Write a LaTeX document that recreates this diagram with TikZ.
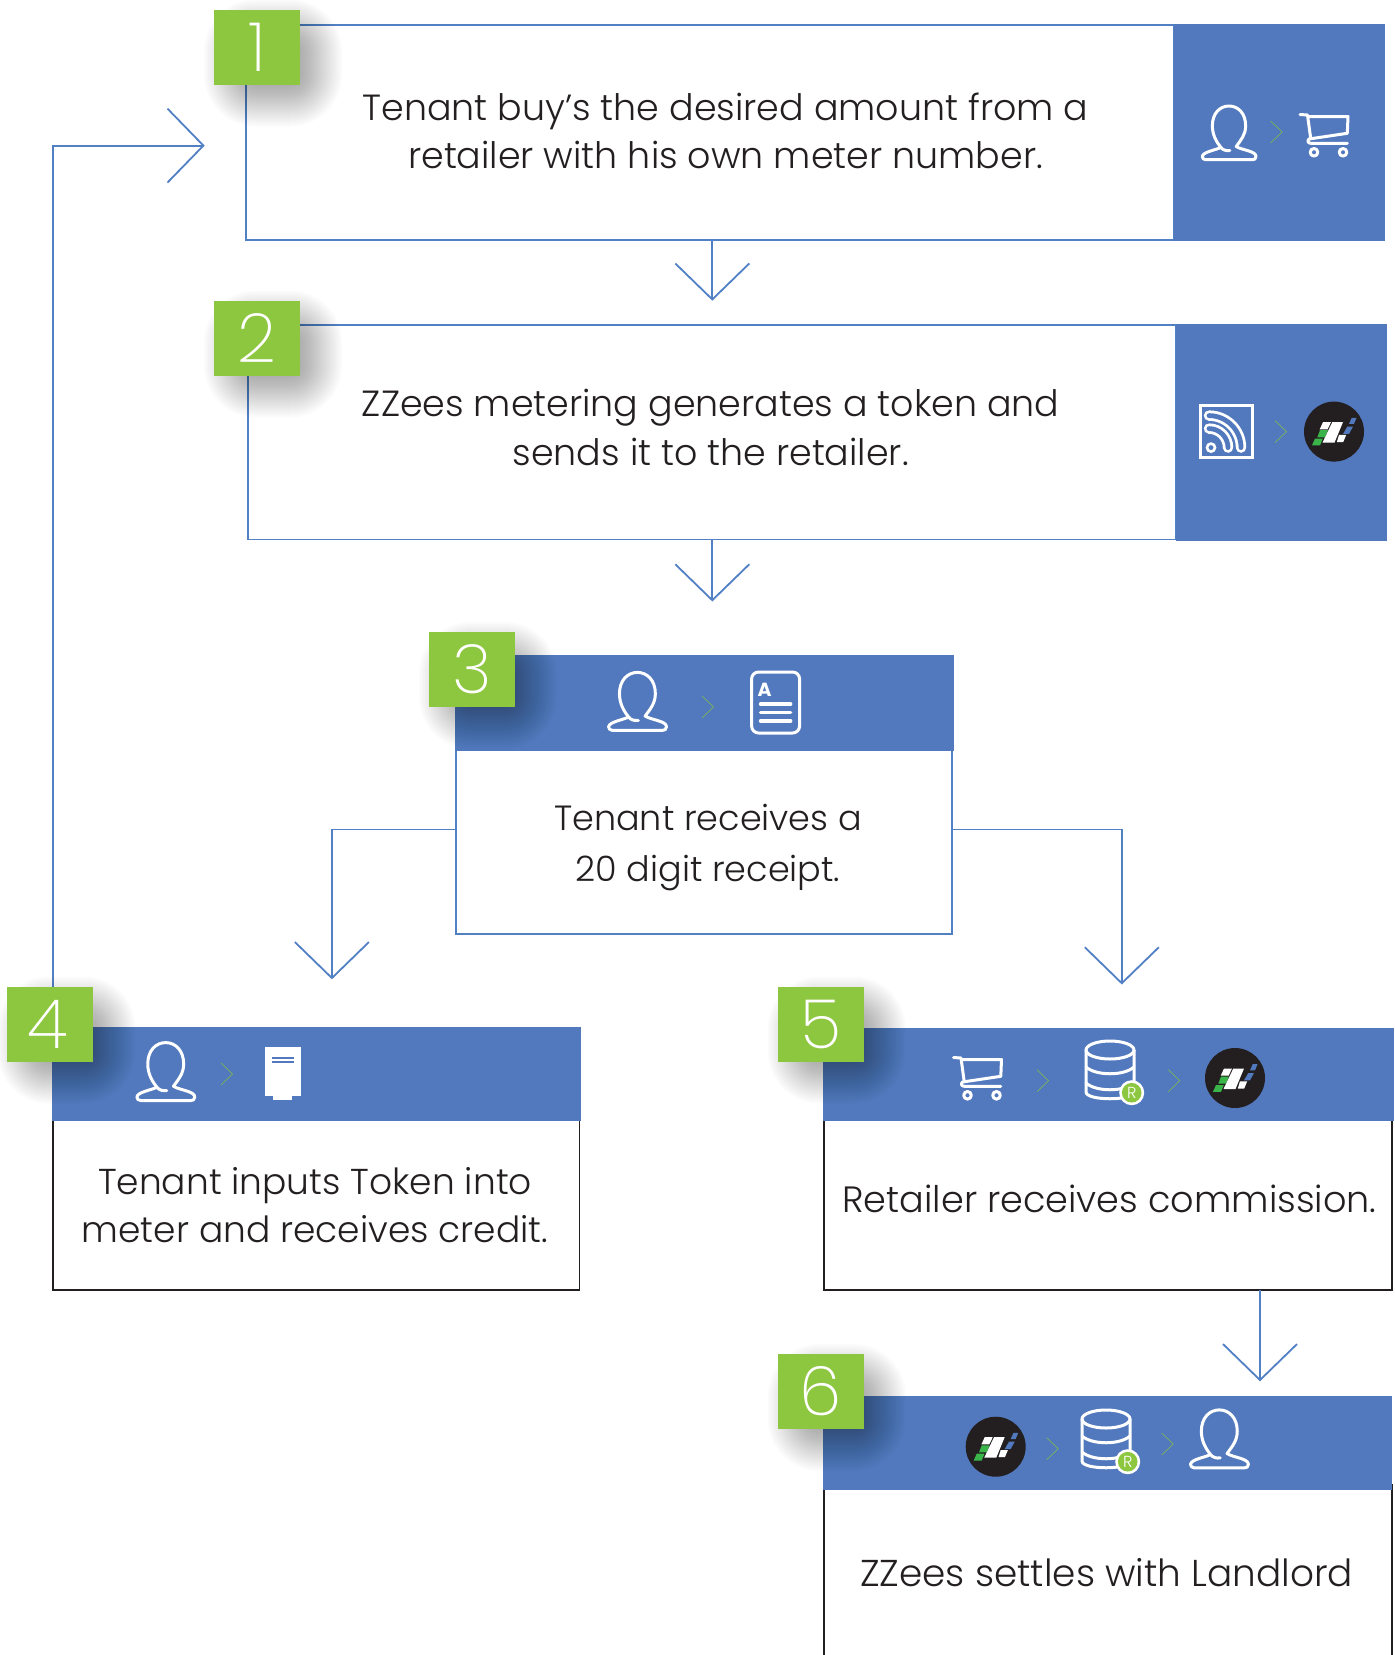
\documentclass[tikz,border=0pt]{standalone}
\usepackage{fontspec}
\setmainfont{Poppins}[UprightFont=* Light,BoldFont=* Bold]
\newfontfamily\digitfont{Poppins}[UprightFont=* ExtraLight]
\usetikzlibrary{arrows.meta,calc}
\definecolor{hdr}{HTML}{5279BD}
\definecolor{lnk}{HTML}{5280C4}
\definecolor{leaf}{HTML}{8DC63F}
\definecolor{ink}{HTML}{231F20}
\definecolor{chev}{HTML}{7DB35A}
\definecolor{logog}{HTML}{39B54A}
\newcommand{\Rect}[6]{%
  \pgfmathsetmacro\cxx{(#2+#4)/2}\pgfmathsetmacro\cyy{(#3+#5)/2}%
  \node[#6,minimum width={(#4-#2)*0.5pt},minimum height={(#5-#3)*0.5pt}] (#1) at (\cxx,\cyy) {};}
\newcommand{\Badge}[4]{% name, left, top, digit
  \foreach \s in {-26,-24,...,26}{%
    \pgfmathsetmacro\rr{max(0,\s+26)*0.5}%
    \fill[black,opacity=0.017,rounded corners=\rr pt] ({#2+16-\s},{#3+16-\s}) rectangle ({#2+86+16+\s},{#3+75+16+\s});}
  \node[badgebox] (#1) at ({#2+43},{#3+37.5}) {#4};}
\tikzset{
  x=0.5pt,y=-0.5pt,
  every node/.style={inner sep=0pt,outer sep=0pt},
  frameblue/.style={draw=lnk,line width=0.9pt,fill=white},
  framedark/.style={draw=ink,line width=0.9pt,fill=white},
  panel/.style={fill=hdr},
  badgebox/.style={fill=leaf,text=white,minimum width=43pt,minimum height=37.5pt,font=\digitfont\fontsize{34}{34}\selectfont},
  bodytext/.style={text=ink,align=center,font=\fontsize{18.2}{24.3}\selectfont},
  link/.style={draw=lnk,line width=0.9pt,line join=miter,-{Straight Barb[length=18pt,width=37pt,line width=0.9pt]}},
  ico/.style={draw=white,line width=1.5pt,line cap=round,line join=round},
  chevron/.style={draw=chev,line width=0.35pt},
  pics/person/.style={code={
    \draw[ico] (1,19.5) .. controls (-3,20) and (-7,19) .. (-9,16) .. controls (-14,10) and (-18.5,2) .. (-18.5,-8) .. controls (-18.5,-22) and (-10,-30) .. (0,-30) .. controls (10,-30) and (18.5,-22) .. (18.5,-8) .. controls (18.5,2) and (13,8) .. (8,15) .. controls (14,19) and (30,20) .. (30,26) .. controls (30,29) and (28,29.7) .. (26,29.7) -- (-26,29.7) .. controls (-28,29.7) and (-30,28) .. (-29.7,26) .. controls (-29,21) and (-15,19) .. (-9,16);
  }},
  pics/cart/.style={code={
    \draw[ico] (-24,-20.5) -- (-16.5,-20) -- (-13.3,3.5);
    \draw[ico] (-16,-18.5) -- (24,-18.5) -- (23.3,-1.7) -- (-15,4) .. controls (-17,6) and (-16,8.3) .. (-13,8.3) -- (23.3,8.3);
    \draw[ico] (-10,17.3) circle[radius=3.8];
    \draw[ico] (19,17.3) circle[radius=3.8];
  }},
  pics/logo/.style={code={
    \fill[ink] (0,0) circle[radius=30];
    \fill[logog] (-16.7,5.7) -- (-9,5.7) -- (-6.2,-1.4) -- (-14,-1.4) -- cycle;
    \fill[logog] (-22,13.8) -- (-14,13.8) -- (-11.2,7) -- (-19,7) -- cycle;
    \fill[white] (-11,-9.5) -- (-3,-9.5) -- (-6.4,-2.3) -- (-14.3,-2.3) -- cycle;
    \fill[white] (-1.7,-9.5) -- (9,-9.5) -- (0.5,11) -- (-11.5,11) -- cycle;
    \fill[white] (5,3.3) -- (12.2,3.3) -- (9.2,10.5) -- (2.8,10.5) -- cycle;
    \fill[hdr] (17.7,-13.8) -- (22.5,-13.8) -- (20,-7.7) -- (15,-7.7) -- cycle;
    \fill[hdr] (13.3,-5) -- (19,-5) -- (15,2.3) -- (9,2.3) -- cycle;
  }},
  pics/chev/.style={code={\draw[chevron] (0,-11) -- (11.5,0) -- (0,11);}},
  pics/rss/.style={code={
    \draw[draw=white,line width=1.5pt] (-26,-26) rectangle (26,26);
    \draw[draw=white,line width=1.3pt] (-15,16) circle[radius=4];
    \draw[draw=white,line width=5.2pt,line cap=round] (-17,-16) .. controls (0.6,-16) and (15,-1.6) .. (15,16);
    \draw[draw=hdr,line width=2.4pt,line cap=round] (-17,-16) .. controls (0.6,-16) and (15,-1.6) .. (15,16);
    \draw[draw=white,line width=5.2pt,line cap=round] (-17,-3) .. controls (-6.5,-3) and (2,5.5) .. (2,16);
    \draw[draw=hdr,line width=2.4pt,line cap=round] (-17,-3) .. controls (-6.5,-3) and (2,5.5) .. (2,16);
  }},
  pics/doc/.style={code={
    \draw[ico,rounded corners=3.5pt] (-24,-30.5) rectangle (24,30.5);
    \node[text=white,font=\fontsize{9.5}{9.5}\selectfont\bfseries] (docA) at (-11,-13) {A};
    \foreach \yy in {1.7,10,18.3}{\draw[ico,line width=1.8pt] (-15,\yy) -- (15,\yy);}
  }},
  pics/token/.style={code={
    \fill[white] (-18,-24.7) rectangle (18,24.3);
    \fill[white] (-10,24) rectangle (9,28.3);
    \draw[hdr,line width=1pt] (-11,-14.3) -- (11,-14.3);
    \draw[hdr,line width=1pt] (-11,-9.7) -- (11,-9.7);
  }},
  pics/db/.style={code={
    \draw[ico] (0,-20) ellipse[x radius=24,y radius=9];
    \draw[ico] (-24,-20) -- (-24,22) .. controls (-24,31) and (24,31) .. (24,22) -- (24,-20);
    \draw[ico] (-24,-3) .. controls (-14,6) and (14,6) .. (24,-3);
    \draw[ico] (-24,13) .. controls (-14,22) and (14,22) .. (24,13);
    \fill[white] (21.7,22.7) circle[radius=12.5];
    \fill[leaf] (21.7,22.7) circle[radius=9.8];
    \node[text=white,font=\fontsize{8}{8}\selectfont] at (21.7,22.7) {R};
  }},
}
\begin{document}
\begin{tikzpicture}
\useasboundingbox (0,0) rectangle (1394,1655);
\fill[white] (0,0) rectangle (1394,1655);
% box frames and panels
\Rect{box1}{246}{25}{1174}{240}{frameblue}
\Rect{pan1}{1173.5}{24}{1385}{240.6}{panel}
\Rect{box2}{248}{325}{1176}{539.5}{frameblue}
\Rect{pan2}{1175.6}{324}{1387}{540.5}{panel}
\Rect{box3}{456}{745}{952}{934}{frameblue}
\Rect{hdr3}{455}{655}{954}{750.5}{panel}
\Rect{box4}{52.8}{1115}{579.4}{1289.6}{framedark}
\Rect{hdr4}{52}{1027}{581}{1121}{panel}
\Rect{box5}{824}{1115}{1392}{1289.6}{framedark}
\Rect{hdr5}{823}{1028}{1394}{1121}{panel}
\Rect{box6}{824}{1485}{1392}{1700}{framedark}
\Rect{hdr6}{823}{1396}{1392}{1489.5}{panel}
% free ends of connectors
\coordinate (tip1) at (204.7,145.6);
\coordinate (loopbend) at (52.8,145.6);
\coordinate (tip2) at (712.3,300.7);
\coordinate (tip3) at (712.3,601.5);
\coordinate (tip4) at (331.9,979.3);
\coordinate (tip5) at (1121.8,984.5);
\coordinate (tip6) at (1260,1381.3);
\coordinate (bend4) at (331.9,829.5);
\coordinate (bend5) at (1121.8,829.5);
% connectors
\draw[link] (hdr4.north west) ++(0.8,0) -- (loopbend) -- (tip1);
\draw[link] (tip2 |- box1.south) -- (tip2);
\draw[link] (tip3 |- box2.south) -- (tip3);
\draw[link] (bend4 -| box3.west) -- (bend4) -- (tip4);
\draw[link] (bend5 -| box3.east) -- (bend5) -- (tip5);
\draw[link] (tip6 |- box5.south) -- (tip6);
% badges
\Badge{num1}{214}{9.5}{1}
\Badge{num2}{214}{300.5}{2}
\Badge{num3}{429}{632}{3}
\Badge{num4}{7.4}{986.5}{\hspace*{-3pt}4}
\Badge{num5}{777.8}{986.5}{5}
\Badge{num6}{777.8}{1354}{6}
% texts
\node[bodytext] (txt1) at (725.5,130.8) {Tenant buy’s the desired amount from a\\retailer with his own meter number.};
\node[bodytext] (txt2) at (710.7,427.3) {ZZees metering generates a token and\\sends it to the retailer.};
\node[bodytext,font=\fontsize{17.5}{25.3}\selectfont] (txt3) at (708,847.4) {Tenant receives a\\20 digit receipt.};
\node[bodytext,font=\fontsize{18}{24.3}\selectfont] (txt4) at (315,1205) {Tenant inputs Token into\\meter and receives credit.};
\node[bodytext,font=\fontsize{18.3}{24.3}\selectfont] (txt5) at (1109.5,1199) {Retailer receives commission.};
\node[bodytext,font=\fontsize{18.7}{24.3}\selectfont] (txt6) at (1106.5,1573) {ZZees settles with Landlord};
% icons
\pic[scale=0.9] at (1229,133) {person};
\pic at (1270.6,132) {chev};
\pic at (1324,135) {cart};
\pic at (1226,431.6) {rss};
\pic at (1275,431.6) {chev};
\pic at (1334,431.6) {logo};
\pic[scale=0.97] at (637.4,701.5) {person};
\pic at (702,707) {chev};
\pic at (775.6,702.5) {doc};
\pic[scale=0.97] at (165.7,1071.7) {person};
\pic at (221,1074) {chev};
\pic at (283,1072) {token};
\pic at (977.5,1078) {cart};
\pic at (1037,1080.7) {chev};
\pic at (1110,1070) {db};
\pic at (1168.3,1080.7) {chev};
\pic at (1235,1078) {logo};
\pic at (995.7,1446.7) {logo};
\pic at (1046.7,1448.7) {chev};
\pic at (1106,1439) {db};
\pic at (1161.7,1444) {chev};
\pic[scale=0.97] at (1219.3,1439) {person};
\end{tikzpicture}
\end{document}
